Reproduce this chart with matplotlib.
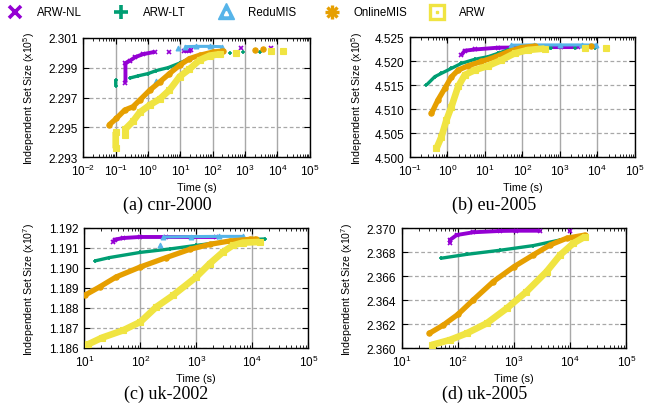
import numpy as np
import matplotlib
matplotlib.use("Agg")
import matplotlib.pyplot as plt
from matplotlib.ticker import FixedLocator, FormatStrFormatter, LogLocator

plt.rcParams["font.family"] = ["Liberation Sans", "DejaVu Sans"]
plt.rcParams["mathtext.fontset"] = "custom"
plt.rcParams["mathtext.rm"] = "Liberation Sans"
plt.rcParams["mathtext.it"] = "Liberation Sans:italic"

nan = np.nan

NAMES = ["ARW-NL", "ARW-LT", "ReduMIS", "OnlineMIS", "ARW"]
COLORS = ["#9400d3", "#009e73", "#56b4e9", "#e69f00", "#f0e442"]

# (a) cnr-2000, values in units of 1e5 (nan breaks a run into separate points)
CNR_NL_T = [0.2, 0.2, 0.27, 0.4, 0.7, 1.6, nan, 4.3, nan, 13, 18, 22, nan, 750, nan, 6500]
CNR_NL_V = [2.2980, 2.2993, 2.29945, 2.2997, 2.2999, 2.30005, nan, 2.30005, nan,
            2.3001, 2.30013, 2.30015, nan, 2.30028, nan, 2.30028]
CNR_LT_T = [0.1, 0.1, nan, 0.27, 0.5, 1.0, 1.8, 4.2, 9.5, 19, 39, 80, 210, nan,
            340, nan, 870, nan, 2800, nan, 6000]
CNR_LT_V = [2.2978, 2.2982, nan, 2.2983, 2.29845, 2.2986, 2.2988, 2.2990, 2.2993,
            2.2996, 2.2998, 2.2999, 2.3000, nan, 2.29998, nan, 2.30004, nan,
            2.30007, nan, 2.30014]
CNR_RM_T = [1.7, nan, 8.5, nan, 13.5, 30, 80, 190]
CNR_RM_V = [2.2981, nan, 2.3003, nan, 2.3004, 2.30042, 2.30042, 2.3004]
CNR_OM_T = [0.062, 0.105, 0.19, 0.34, 0.55, 1.13, 2.3, 4.6, 9.5, 19, 39, 102, 210,
            nan, 2000, nan, 3700]
CNR_OM_V = [2.29516, 2.2956, 2.29616, 2.29638, 2.29682, 2.29749, 2.29804, 2.2986,
            2.29916, 2.2996, 2.29982, 2.30004, 2.30011, nan, 2.30015, nan, 2.30022]
CNR_ARW_T = [0.1, 0.1, nan, 0.2, 0.2, 0.34, 0.55, 1.13, 2.3, 4.6, 9.5, 19, 39, 80,
             165, nan, 540, nan, 6400, nan, 15000]
CNR_ARW_V = [2.2936, 2.2947, nan, 2.2945, 2.2949, 2.2954, 2.2960, 2.2965, 2.2969,
             2.2975, 2.2984, 2.2989, 2.2995, 2.2998, 2.2999, nan, 2.3000, nan,
             2.3001, nan, 2.3001]

# (b) eu-2005, units of 1e5
EU_NL_T = [2.36, 2.9, 5.4, 22.5, 50, 200, 1100, 3000]
EU_NL_V = [4.52125, 4.52215, 4.5224, 4.52278, 4.5228, 4.5229, 4.5229, 4.5229]
EU_LT_T = [0.275, 0.46, 0.69, 1.28, 2.36, 5.35, 12.2, 22.5, 41, 94, 590, nan,
           2500, nan, 8500]
EU_LT_V = [4.5150, 4.51674, 4.51743, 4.51847, 4.51951, 4.52035, 4.5209, 4.5216,
           4.5223, 4.5228, 4.5227, nan, 4.5228, nan, 4.5228]
EU_RM_T = [27, nan, 50, 200, 1000, 4000, 9500]
EU_RM_V = [4.5202, nan, 4.5233, 4.52335, 4.52335, 4.52335, 4.5233]
EU_OM_T = [0.375, 0.56, 0.85, 1.28, 1.93, 3.56, 8.1, 18.3, 41, 94, 212, nan, 7000]
EU_OM_V = [4.5091, 4.5119, 4.5143, 4.5167, 4.5181, 4.5190, 4.5199, 4.5208, 4.5219,
           4.5228, 4.5231, nan, 4.5231]
EU_ARW_T = [0.51, 0.69, 0.94, 1.28, 1.93, 2.9, 5.35, 12.2, 27.5, 62, 141, 393, nan,
            4600, nan, 17000]
EU_ARW_V = [4.5018, 4.5042, 4.5077, 4.5105, 4.5147, 4.5171, 4.5181, 4.5190, 4.5202,
            4.5216, 4.5223, 4.5226, nan, 4.5228, nan, 4.5228]

# (c) uk-2002, units of 1e7
UK2_NL_T = [33, 35, 50, 97, 290, 2270]
UK2_NL_V = [1.1913, 1.19142, 1.1915, 1.19155, 1.19155, 1.19155]
UK2_LT_T = [15.3, 28, 100, 334, 1000, 3000, 9000, 16700]
UK2_LT_V = [1.19035, 1.19052, 1.19078, 1.19095, 1.19113, 1.1913, 1.19142, 1.19145]
UK2_RM_T = [221, nan, 254, 800, 2500, 6800]
UK2_RM_V = [1.19113, nan, 1.19155, 1.19157, 1.19158, 1.19158]
UK2_OM_T = [10.1, 18.7, 37, 100, 290, 760, 1740, 3940, 9000, 11800]
UK2_OM_V = [1.18863, 1.18905, 1.18955, 1.19005, 1.19052, 1.19093, 1.19118, 1.19135,
            1.19143, 1.19145]
UK2_ARW_T = [11.6, 21, 49, 100, 193, 383, 1000, 1740, 3000, 4500, 6800, 13500]
UK2_ARW_V = [1.18618, 1.18652, 1.18688, 1.1873, 1.18805, 1.18863, 1.18955, 1.19022,
             1.1908, 1.19113, 1.19127, 1.1913]

# (d) uk-2005, units of 1e7
UK5_NL_T = [72, 72, 95, 187, 560, 1100, 2880, nan, 9800]
UK5_NL_V = [2.36875, 2.36903, 2.36944, 2.36967, 2.36978, 2.3698, 2.3698, nan, 2.36978]
UK5_LT_T = [49, 143, 560, 2200, 6600, 17000]
UK5_LT_V = [2.3675, 2.36783, 2.36817, 2.36856, 2.36903, 2.36936]
UK5_RM_T = []
UK5_RM_V = []
UK5_OM_T = [31, 55, 100, 187, 426, 1000, 2190, 4350, 8600, 18300]
UK5_OM_V = [2.36125, 2.36194, 2.36283, 2.36403, 2.36556, 2.36681, 2.36778, 2.36861,
            2.36917, 2.36944]
UK5_ARW_T = [34, 72, 143, 324, 740, 1660, 3780, 6600, 11300, 18300]
UK5_ARW_V = [2.36028, 2.3607, 2.36125, 2.36208, 2.36333, 2.36472, 2.36639, 2.36778,
             2.36875, 2.36931]

PANELS = [
    dict(rect=[0.1267, 0.6139, 0.3441, 0.2917], xlim=(1e-2, 1e5),
         ylim=(2.293, 2.301), yticks=[2.293, 2.295, 2.297, 2.299, 2.301], exp=5,
         caption="(a) cnr-2000", cap=(0.255, 0.498), labx=-0.205,
         series=[(CNR_NL_T, CNR_NL_V), (CNR_LT_T, CNR_LT_V), (CNR_RM_T, CNR_RM_V),
                 (CNR_OM_T, CNR_OM_V), (CNR_ARW_T, CNR_ARW_V)]),
    dict(rect=[0.6231, 0.6146, 0.3415, 0.2927], xlim=(1e-1, 1e5),
         ylim=(4.500, 4.525), yticks=[4.500, 4.505, 4.510, 4.515, 4.520, 4.525], exp=5,
         caption="(b) eu-2005", cap=(0.751, 0.498), labx=-0.2,
         series=[(EU_NL_T, EU_NL_V), (EU_LT_T, EU_LT_V), (EU_RM_T, EU_RM_V),
                 (EU_OM_T, EU_OM_V), (EU_ARW_T, EU_ARW_V)]),
    dict(rect=[0.1281, 0.1488, 0.3404, 0.2927], xlim=(1e1, 1e5),
         ylim=(1.186, 1.192), yticks=[1.186, 1.187, 1.188, 1.189, 1.190, 1.191, 1.192],
         exp=7, caption="(c) uk-2002", cap=(0.252, 0.039), labx=-0.21,
         series=[(UK2_NL_T, UK2_NL_V), (UK2_LT_T, UK2_LT_V), (UK2_RM_T, UK2_RM_V),
                 (UK2_OM_T, UK2_OM_V), (UK2_ARW_T, UK2_ARW_V)]),
    dict(rect=[0.6106, 0.1480, 0.3415, 0.2927], xlim=(1e1, 1e5),
         ylim=(2.360, 2.370), yticks=[2.360, 2.362, 2.364, 2.366, 2.368, 2.370],
         exp=7, caption="(d) uk-2005", cap=(0.737, 0.039), labx=-0.21,
         series=[(UK5_NL_T, UK5_NL_V), (UK5_LT_T, UK5_LT_V), (UK5_RM_T, UK5_RM_V),
                 (UK5_OM_T, UK5_OM_V), (UK5_ARW_T, UK5_ARW_V)]),
]

# line width / marker per method (markers kept close to the line width so
# the runs read as dense bands of points, like the gnuplot original)
STYLE = [
    dict(lw=2.8, marker="x", ms=3.5, mew=1.2),
    dict(lw=2.4, marker="+", ms=3.5, mew=1.2),
    dict(lw=2.2, marker="^", ms=3.5, mew=0.8),
    dict(lw=3.8, marker="o", ms=3.8, mew=0.8),
    dict(lw=4.8, marker="s", ms=4.2, mew=0.8),
]

fig = plt.figure(figsize=(6.58, 4.10), dpi=100)

for p in PANELS:
    ax = fig.add_axes(p["rect"])
    ax.set_xscale("log")
    for (t, v), c, st in zip(p["series"], COLORS, STYLE):
        if len(t) == 0:
            continue
        ax.plot(t, v, color=c, lw=st["lw"], marker=st["marker"], ms=st["ms"],
                mew=st["mew"], mec=c, mfc=c, solid_capstyle="butt", zorder=3)
    ax.set_xlim(*p["xlim"])
    ax.set_ylim(*p["ylim"])
    ax.yaxis.set_major_locator(FixedLocator(p["yticks"]))
    ax.yaxis.set_major_formatter(FormatStrFormatter("%.3f"))
    ax.xaxis.set_major_locator(LogLocator(base=10, numticks=20))
    ax.xaxis.set_minor_locator(LogLocator(base=10, subs=np.arange(2, 10), numticks=20))
    ax.xaxis.set_minor_formatter(plt.NullFormatter())
    ax.grid(True, axis="x", which="major", color="#a8a8a8", lw=1.0, ls="-", zorder=1)
    ax.grid(True, axis="y", which="major", color="#a8a8a8", lw=0.9, ls=(0, (3, 2)),
            zorder=1)
    ax.tick_params(which="both", direction="in", top=True, right=True,
                   labelsize=8.5, pad=4)
    ax.tick_params(which="major", length=4, width=0.8)
    ax.tick_params(which="minor", length=2, width=0.6)
    for s in ax.spines.values():
        s.set_linewidth(1.0)
    ax.set_xlabel("Time (s)", fontsize=7.8, labelpad=3)
    ax.set_ylabel("Independent Set Size (x10$^{%d}$)" % p["exp"], fontsize=7.6)
    ax.yaxis.set_label_coords(p["labx"], 0.5)
    fig.text(p["cap"][0], p["cap"][1], p["caption"], family="Liberation Serif",
             fontsize=13, ha="center", va="center")

# legend row across the top
lg = fig.add_axes([0, 0, 1, 1], facecolor="none")
lg.set_xlim(0, 658)
lg.set_ylim(410, 0)
lg.axis("off")
for i, (name, c) in enumerate(zip(NAMES, COLORS)):
    x0 = 15 + i * 105.5
    if i == 0:
        lg.plot([x0], [13], marker="x", ms=9, mew=2.6, color=c)
    elif i == 1:
        lg.plot([x0], [13], marker="+", ms=10, mew=2.6, color=c)
    elif i == 2:
        lg.plot([x0], [12], marker="^", ms=11, color=c, mec=c)
        lg.plot([x0], [13.5], marker="^", ms=3, color="white", mec="white")
    elif i == 3:
        lg.plot([x0], [13], marker="+", ms=10, mew=2.4, color=c)
        lg.plot([x0], [13], marker="x", ms=7.5, mew=2.4, color=c)
    else:
        lg.plot([x0], [13], marker="s", ms=10, mfc="white", mec=c, mew=2.4)
        lg.plot([x0], [13], marker="s", ms=1.5, color=c)
    lg.text(x0 + 22, 13, name, fontsize=8.3, va="center", ha="left")

fig.savefig("out.png", dpi=100)
